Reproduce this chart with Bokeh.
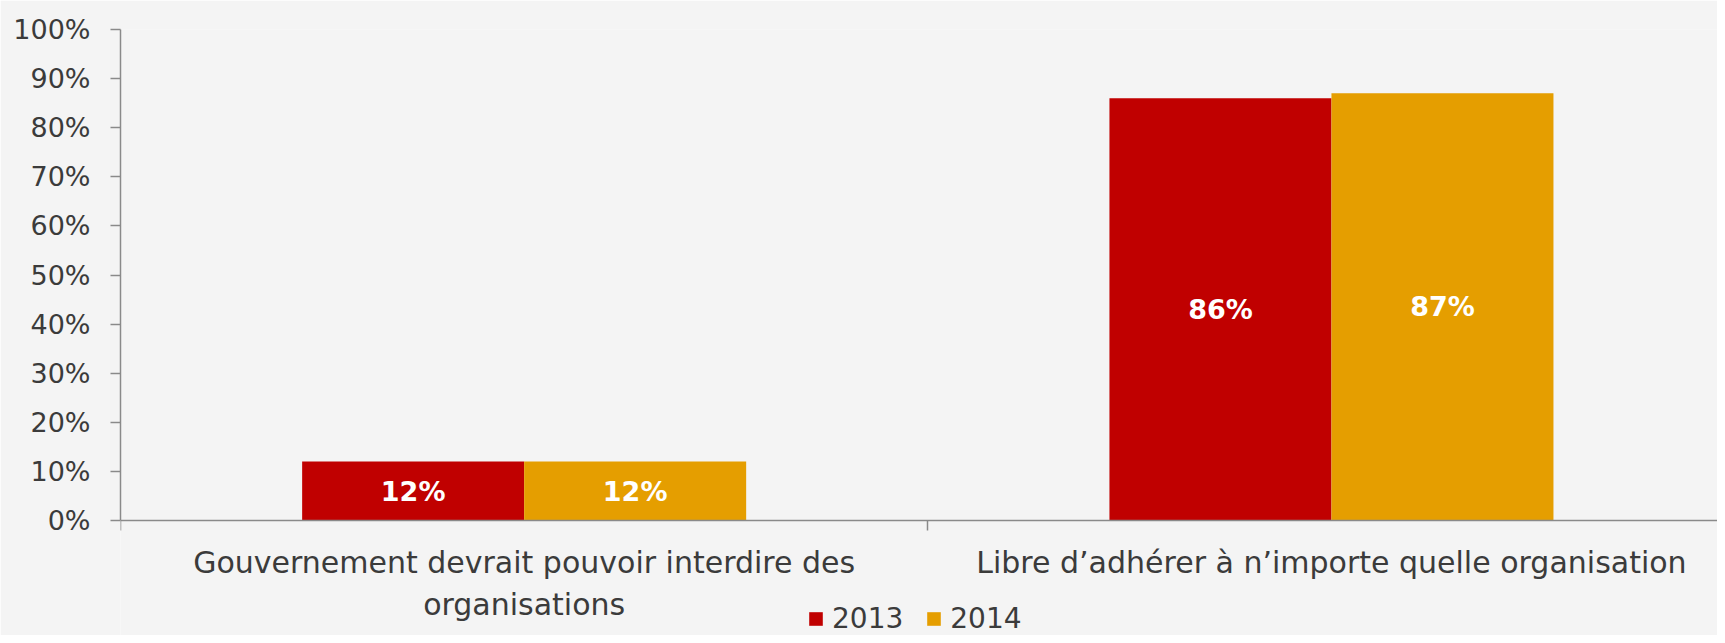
from bokeh.plotting import figure
from bokeh.models import (ColumnDataSource, Range1d, FixedTicker, NumeralTickFormatter,
                          LabelSet, Legend, LegendItem, LinearAxis)
from bokeh.core.properties import value
from bokeh.transform import dodge
from bokeh.embed import file_html
from bokeh.resources import INLINE

categories = ["Gouvernement devrait pouvoir interdire des\norganisations",
              "Libre d\u2019adh\u00e9rer \u00e0 n\u2019importe quelle organisation"]
years = ["2013", "2014"]
values_2013 = [0.12, 0.86]
values_2014 = [0.12, 0.87]
y_ticks = [0.0, 0.1, 0.2, 0.3, 0.4, 0.5, 0.6, 0.7, 0.8, 0.9, 1.0]

colors = ["#C00000", "#E59E00"]
FONT = "DejaVu Sans"
TEXT = "#3b3b3b"
AXIS = "#8a8a8a"
BG = "#F4F4F4"

W, H = 1717, 635
TOP, LEFT = 29, 120          # frame offsets in px
ZERO_PX = 520                # pixel row of the 0% line
px_per_unit = ZERO_PX - TOP  # pixels for 100%
y_start = -(H - ZERO_PX) / px_per_unit

p = figure(width=W, height=H, output_backend="svg", toolbar_location=None,
           x_range=Range1d(0, (W - LEFT) / 807.3), y_range=Range1d(y_start, 1),
           x_axis_location=None,
           min_border_left=LEFT, min_border_right=0, min_border_top=TOP,
           min_border_bottom=0)
p.background_fill_color = BG
p.border_fill_color = BG
p.outline_line_color = None
p.xgrid.visible = False
p.ygrid.visible = False

centers = [i + 0.5 for i in range(len(categories))]
bw = 0.275
series = [values_2013, values_2014]
renderers = []
for k, (yr, vals, col) in enumerate(zip(years, series, colors)):
    src = ColumnDataSource(dict(x=centers, top=vals, mid=[v / 2 for v in vals],
                                lab=[f"{round(v * 100)}%" for v in vals]))
    off = (k - 0.5) * bw
    r = p.vbar(x=dodge("x", off, range=p.x_range), top="top", width=bw, bottom=0,
               source=src, fill_color=col, line_color=None)
    renderers.append(r)
    lbl = LabelSet(x=dodge("x", off, range=p.x_range), y="mid", text="lab", source=src,
                   text_align="center", text_baseline="middle", text_color="white",
                   text_font=value(FONT), text_font_style="bold", text_font_size="27px")
    p.add_layout(lbl)

# y axis
p.yaxis.ticker = FixedTicker(ticks=y_ticks)
p.yaxis.bounds = (0, 1)
p.yaxis.formatter = NumeralTickFormatter(format="0%")
p.yaxis.axis_line_color = AXIS
p.yaxis.axis_line_width = 1.5
p.yaxis.major_tick_line_color = AXIS
p.yaxis.major_tick_line_width = 1.5
p.yaxis.major_tick_out = 10
p.yaxis.major_tick_in = 0
p.yaxis.minor_tick_line_color = None
p.yaxis.major_label_standoff = 20
p.yaxis.major_label_text_font = FONT
p.yaxis.major_label_text_font_size = "27px"
p.yaxis.major_label_text_color = TEXT

# x axis line with category boundary ticks, pinned at 0%
xaxis = LinearAxis(fixed_location=0, ticker=FixedTicker(ticks=[0, 1, 2]),
                   axis_line_color=AXIS, axis_line_width=1.5,
                   major_tick_line_color=AXIS, major_tick_line_width=1.5,
                   major_tick_in=10, major_tick_out=0,
                   minor_tick_line_color=None,
                   major_label_text_font_size="0px", major_label_standoff=0)
xaxis.major_label_overrides = {0: "", 1: "", 2: ""}
p.add_layout(xaxis, "above")

# category labels under the axis, one centred row per wrapped line
LINE_GAP = 42
cx, cy, ctext, coff = [], [], [], []
for c, cat in zip(centers, categories):
    for j, line in enumerate(cat.split("\n")):
        cx.append(c)
        cy.append(0)
        ctext.append(line)
        coff.append(-24 - LINE_GAP * j)
cat_src = ColumnDataSource(dict(x=cx, y=cy, text=ctext, off=coff))
p.add_layout(LabelSet(x="x", y="y", text="text", source=cat_src, y_offset="off",
                      text_align="center", text_baseline="top", text_color=TEXT,
                      text_font=value(FONT), text_font_size="30px"))

legend = Legend(items=[LegendItem(label=yr, renderers=[r]) for yr, r in zip(years, renderers)],
                orientation="horizontal", location=(687, 0),
                background_fill_alpha=0, border_line_color=None,
                padding=0, margin=0, spacing=22,
                glyph_width=17, glyph_height=17, label_standoff=8, label_height=17,
                label_text_font=FONT, label_text_font_size="28px",
                label_text_color=TEXT)
p.add_layout(legend)

open("out.html", "w").write(file_html(p, INLINE))
